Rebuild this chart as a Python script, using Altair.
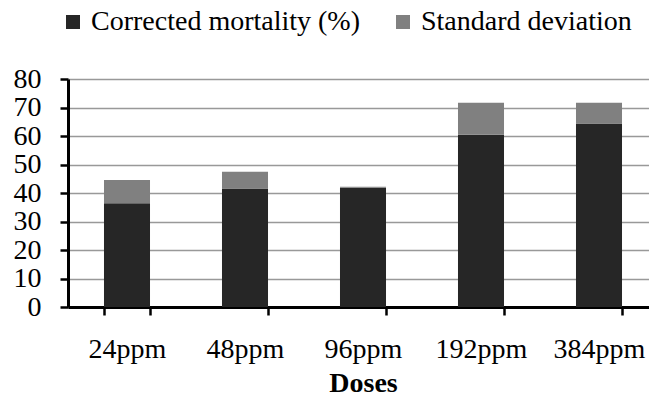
import altair as alt
import pandas as pd

doses = ["24ppm", "48ppm", "96ppm", "192ppm", "384ppm"]
mortality = [36.4, 41.6, 41.8, 60.4, 64.4]
std_dev = [8.2, 5.9, 0.4, 11.3, 7.3]
series = ["Corrected mortality (%)", "Standard deviation"]
colors = ["#262626", "#808080"]

rows = []
for d, m, s in zip(doses, mortality, std_dev):
    rows.append({"dose": d, "series": series[0], "value": m, "ord": 0})
    rows.append({"dose": d, "series": series[1], "value": s, "ord": 1})
df = pd.DataFrame(rows)

FONT = "Liberation Serif"

chart = alt.Chart(df).mark_bar().encode(
    x=alt.X(
        "dose:N",
        sort=doses,
        title="Doses",
        scale=alt.Scale(range=[0, 590], paddingInner=0.61, paddingOuter=0.305),
        axis=alt.Axis(
            labelAngle=0,
            labelFont=FONT,
            labelFontSize=28,
            labelColor="black",
            labelPadding=20,
            tickBand="extent",
            tickSize=8,
            tickWidth=2.5,
            tickColor="black",
            domainColor="black",
            domainWidth=3,
            titleFont=FONT,
            titleFontSize=28,
            titleFontWeight="bold",
            titleColor="black",
            titlePadding=6,
            grid=False,
        ),
    ),
    y=alt.Y(
        "value:Q",
        stack="zero",
        scale=alt.Scale(domain=[0, 80], nice=False),
        axis=alt.Axis(
            title=None,
            values=[0, 10, 20, 30, 40, 50, 60, 70, 80],
            labelFont=FONT,
            labelFontSize=28,
            labelColor="black",
            labelPadding=19,
            tickSize=8,
            tickWidth=2.5,
            tickColor="black",
            domainColor="black",
            domainWidth=3,
            grid=True,
            gridColor="#999999",
            gridWidth=1.5,
        ),
    ),
    color=alt.Color(
        "series:N",
        scale=alt.Scale(domain=series, range=colors),
        legend=alt.Legend(
            title=None,
            orient="none",
            direction="horizontal",
            legendX=-9,
            legendY=-71,
            padding=0,
            symbolType="square",
            symbolSize=196,
            symbolStrokeWidth=0,
            symbolOpacity=1,
            labelFont=FONT,
            labelFontSize=28,
            labelColor="black",
            labelLimit=0,
            labelOffset=4,
            columnPadding=28,
        ),
    ),
    order=alt.Order("ord:Q", sort="ascending"),
).properties(
    width=581,
    height=228,
    autosize=alt.AutoSizeParams(type="none"),
    padding={"left": 68, "top": 79, "right": 0, "bottom": 92},
).configure_view(stroke=None)

chart.save("out.html", embed_options={"renderer": "svg", "actions": False})
